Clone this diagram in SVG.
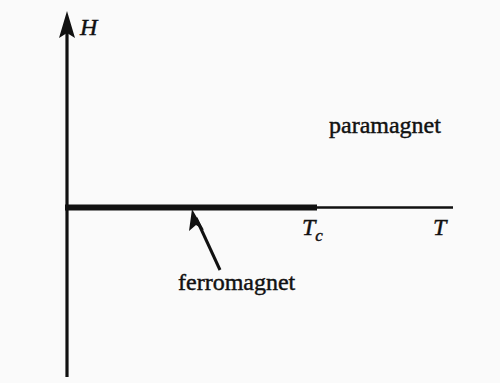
<svg xmlns="http://www.w3.org/2000/svg" width="500" height="383" viewBox="0 0 500 383">
<defs>
<style>
.lbl{font-family:'Liberation Serif','Times New Roman','DejaVu Serif',serif;font-size:24px;fill:#111;stroke:#111;stroke-width:0.45}
.it{font-style:italic}
.ax{stroke:#111;fill:none;stroke-linecap:butt}
</style>
</defs>
<rect width="500" height="383" fill="#fafafa"/>
<g id="axes">
<line class="ax" x1="67" y1="377" x2="67" y2="30" stroke-width="3.2"/>
<path d="M67,11 L75,38 L67,33 L59,38 Z" fill="#111"/>
<line class="ax" x1="65" y1="207.5" x2="453" y2="207.5" stroke-width="2.5"/>
<line class="ax" x1="65" y1="207.5" x2="317" y2="207.5" stroke-width="6" stroke-linecap="round"/>
</g>
<g id="connectors">
<line class="ax" x1="220" y1="270" x2="196" y2="218" stroke-width="3"/>
<path d="M192,209 L204,230 L196,225 L189,231 Z" fill="#111"/>
</g>
<g id="labels">
<text class="lbl it" x="80" y="35">H</text>
<text class="lbl" x="329" y="133">paramagnet</text>
<text class="lbl" x="178" y="290">ferromagnet</text>
<text class="lbl it" x="302" y="235">T<tspan font-size="17" dy="6">c</tspan></text>
<text class="lbl it" x="433" y="235">T</text>
</g>
</svg>
